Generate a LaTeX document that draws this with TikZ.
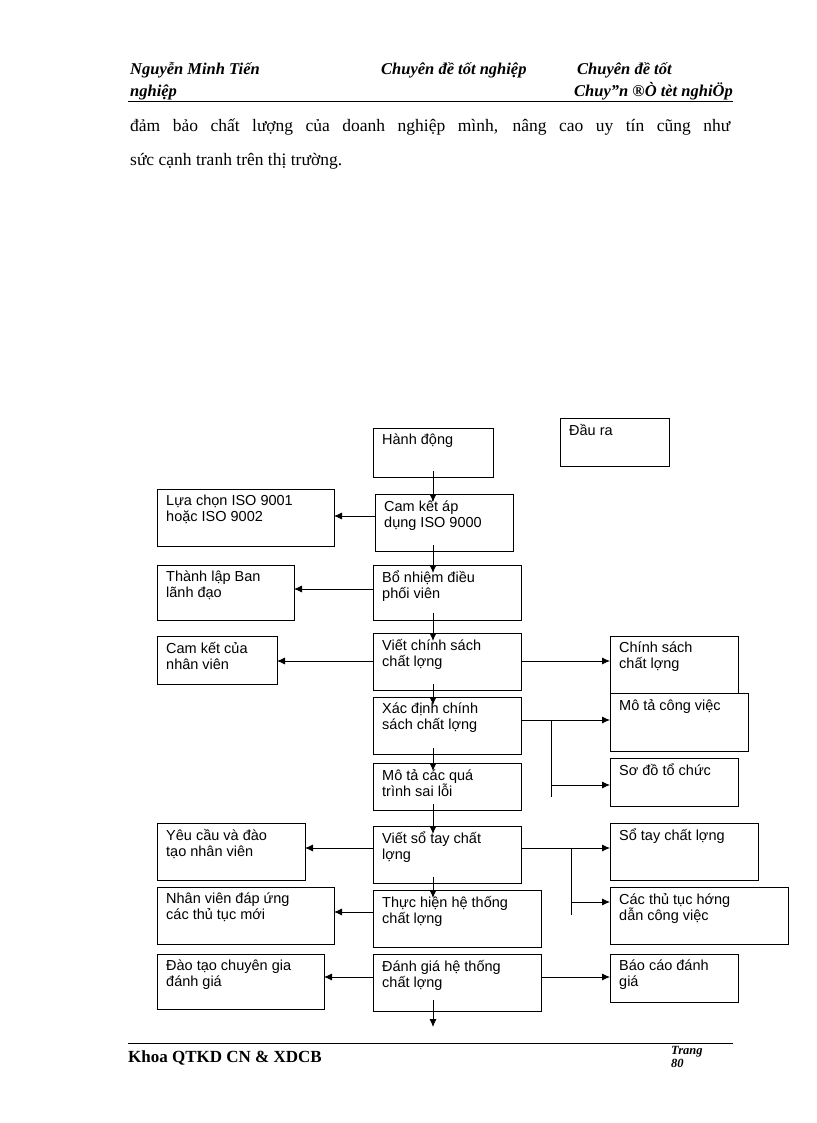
\documentclass[tikz,border=0pt]{standalone}
\usepackage{fontspec}
\setmainfont{Liberation Serif}
\newfontfamily\arial{Liberation Sans}
\usetikzlibrary{arrows.meta}
\begin{document}
\begin{tikzpicture}[x=1pt,y=-1pt,
 bx/.style={draw,line width=0.9pt},
 tx/.style={anchor=north west,align=left,font=\arial\fontsize{14.5}{16}\selectfont,inner sep=0pt},
 ar/.style={-{Latex[length=8pt,width=7pt]},line width=0.8pt},
 ln/.style={line width=0.8pt}]
\useasboundingbox (0,0) rectangle (816,1123);
% header
\tikzset{hd/.style={font=\bfseries\itshape\fontsize{16.5}{18}\selectfont,inner sep=0}}
\node[anchor=base west,hd] (h1) at (130,75) {Nguyễn Minh Tiến};
\node[anchor=base west,hd] (h2) at (381,75) {Chuyên đề tốt nghiệp};
\node[anchor=base west,hd] (h3) at (577,75) {Chuyên đề tốt};
\node[anchor=base west,hd] (h4) at (130,97) {nghiệp};
\node[anchor=base east,hd] (h5) at (733,97) {Chuy"n ®Ò tèt nghiÖp};
\draw[line width=0.6pt] (128,101) -- (733,101);
\node[anchor=base west,font=\fontsize{17.5}{19}\selectfont,inner sep=0,text width=600pt,align=justify] (p1) at (130,132) {đảm bảo chất lượng của doanh nghiệp mình, nâng cao uy tín cũng như\parfillskip=0pt\par};
\node[anchor=base west,font=\fontsize{17.5}{19}\selectfont,inner sep=0] (p2) at (130,166) {sức cạnh tranh trên thị trường.};
% footer
\draw[line width=0.6pt] (128,1043) -- (733,1043);
\node[anchor=base west,font=\bfseries\fontsize{17}{19}\selectfont,inner sep=0] (f1) at (128,1062) {Khoa QTKD CN \& XDCB};
\node[anchor=north west,font=\bfseries\itshape\fontsize{12.5}{13}\selectfont,inner sep=0,align=left] (f2) at (671,1046) {Trang\\80};
% boxes
\newcommand\bxx[6]{\draw[bx] (#2,#3) rectangle (#4,#5); \node[tx] (#1) at (#2+9,#3+6) {#6};
 \coordinate (#1-nw) at (#2,#3); \coordinate (#1-se) at (#4,#5);}
\bxx{a}{373}{428}{493}{477}{Hành động}
\bxx{out}{560}{418}{669}{466}{Đầu ra}
\bxx{l1}{157}{489}{334}{546}{Lựa chọn ISO 9001\\hoặc ISO 9002}
\bxx{b}{375}{494}{513}{551}{Cam kết áp\\dụng ISO 9000}
\bxx{l2}{157}{565}{294}{620}{Thành lập Ban\\lãnh đạo}
\bxx{c}{373}{565}{521}{620}{Bổ nhiệm điều\\phối viên}
\bxx{l3}{157}{636}{277}{684}{Cam kết của\\nhân viên}
\bxx{d}{373}{633}{521}{690}{Viết chính sách\\chất lợng}
\bxx{r1}{610}{636}{738}{693}{Chính sách\\chất lợng}
\bxx{e}{373}{697}{521}{754}{Xác định chính\\sách chất lợng}
\bxx{r2}{610}{693}{748}{751}{Mô tả công việc}
\bxx{f}{373}{763}{521}{810}{Mô tả các quá\\trình sai lỗi}
\bxx{r3}{610}{758}{738}{806}{Sơ đồ tổ chức}
\bxx{l4}{157}{823}{305}{880}{Yêu cầu và đào\\tạo nhân viên}
\bxx{g}{373}{826}{521}{883}{Viết sổ tay chất\\lợng}
\bxx{r4}{610}{823}{758}{880}{Sổ tay chất lợng}
\bxx{l5}{157}{887}{334}{944}{Nhân viên đáp ứng\\các thủ tục mới}
\bxx{h}{373}{890}{541}{947}{Thực hiện hệ thống\\chất  lợng}
\bxx{r5}{610}{887}{788}{944}{Các thủ tục hớng\\dẫn công việc}
\bxx{l6}{157}{954}{324}{1009}{Đào tạo chuyên gia\\đánh giá}
\bxx{k}{373}{954}{541}{1011}{Đánh giá hệ thống\\chất lợng}
\bxx{r6}{610}{954}{738}{1002}{Báo cáo đánh\\giá}
\coordinate (end) at (433,1027);
% vertical arrows
\foreach \ya/\yb in {471/502,545/573,613/641,684/705,748/771,804/834,877/898,1000/1027}
 \draw[ar] (433,\ya) -- (433,\yb);
% left arrows
\draw[ar] (b-nw |- 0,516) -- (l1-se |- 0,516);
\draw[ar] (c-nw |- 0,589) -- (l2-se |- 0,589);
\draw[ar] (d-nw |- 0,661) -- (l3-se |- 0,661);
\draw[ar] (g-nw |- 0,848) -- (l4-se |- 0,848);
\draw[ar] (h-nw |- 0,912) -- (l5-se |- 0,912);
\draw[ar] (k-nw |- 0,977) -- (l6-se |- 0,977);
% right arrows
\draw[ar] (d-se |- 0,661) -- (r1-nw |- 0,661);
\draw[ar] (e-se |- 0,720) -- (r2-nw |- 0,720);
\draw[ln] (551,720) -- (551,797);
\draw[ar] (551,785) -- (r3-nw |- 0,785);
\draw[ar] (g-se |- 0,848) -- (r4-nw |- 0,848);
\draw[ln] (571,848) -- (571,915);
\draw[ar] (571,902) -- (r5-nw |- 0,902);
\draw[ar] (k-se |- 0,977) -- (r6-nw |- 0,977);
\end{tikzpicture}
\end{document}
